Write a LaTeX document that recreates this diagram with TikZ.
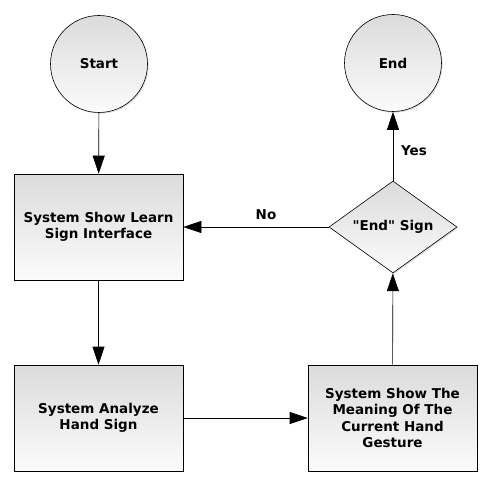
\documentclass[tikz,border=0pt]{standalone}
\usepackage{fontspec}
\setmainfont{DejaVu Sans}
\usetikzlibrary{shapes.geometric,arrows.meta,shadows}
\newcommand{\straightdq}{\XeTeXglyph\XeTeXglyphindex "quotedbl"\relax}
\tikzset{
  base/.style={draw=black, line width=0.6pt, top color=gray!28, bottom color=gray!3,
    font=\fontsize{13.5}{16.5}\selectfont\bfseries, align=center, inner sep=0pt,
    drop shadow={shadow xshift=1.2pt, shadow yshift=-1.2pt, opacity=0.25, fill=gray}},
  termnode/.style={base, circle, minimum size=97pt},
  procbox/.style={base, rectangle, minimum width=169pt, minimum height=106pt},
  decision/.style={base, diamond, minimum width=128pt, minimum height=92pt, aspect=1.39},
  flow/.style={draw=black, line width=0.6pt, -{Triangle[length=18pt,width=12pt]}},
  lbl/.style={font=\fontsize{13.5}{15}\selectfont\bfseries}
}
\begin{document}
\begin{tikzpicture}[x=1pt,y=-1pt]
\useasboundingbox (0,0) rectangle (493,487);
\node[termnode] (start) at (99,64) {Start};
\node[termnode] (end) at (393,63) {End};
\node[procbox] (learn) at (98.5,227) {System Show Learn\\Sign Interface};
\node[procbox] (analyze) at (98.5,418) {System Analyze\\Hand Sign};
\node[procbox] (meaning) at (392.5,418) {System Show The\\Meaning Of The\\Current Hand\\Gesture};
\node[decision] (dec) at (393,227) {\straightdq End\straightdq{} Sign};
\draw[flow] (start) -- (learn);
\draw[flow] (learn) -- (analyze);
\draw[flow] (analyze.east |- 0,418) -- (meaning.west |- 0,418);
\draw[flow] (meaning) -- (dec);
\draw[flow] (dec) -- (end);
\draw[flow] (dec.west) -- (learn.east |- dec.west);
\node[lbl] (yes) at (414,151) {Yes};
\node[lbl] (no) at (266,215) {No};
\end{tikzpicture}
\end{document}
